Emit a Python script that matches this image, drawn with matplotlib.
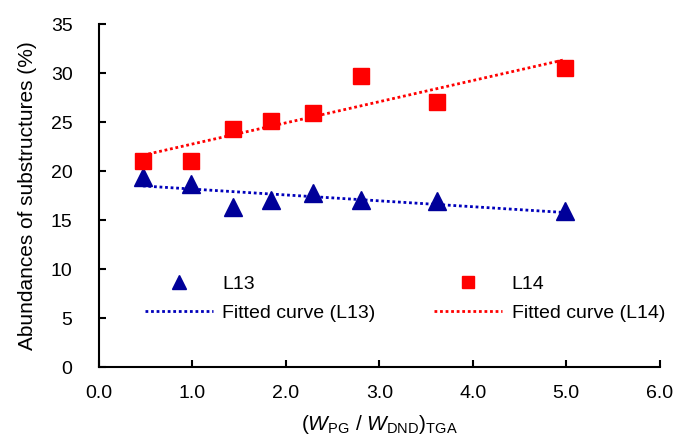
import numpy as np
import matplotlib
matplotlib.use('Agg')
import matplotlib.pyplot as plt

plt.rcParams['font.family'] = ['Liberation Sans', 'DejaVu Sans']
plt.rcParams['mathtext.fontset'] = 'custom'
plt.rcParams['mathtext.rm'] = 'Liberation Sans'
plt.rcParams['mathtext.it'] = 'Liberation Sans:italic'

# ratio (W_PG / W_DND)_TGA
ratio = [0.47, 0.98, 1.43, 1.84, 2.29, 2.80, 3.62, 4.99]
l13 = [19.4, 18.7, 16.35, 17.0, 17.8, 17.0, 16.9, 15.9]
l14 = [21.0, 21.0, 24.25, 25.15, 25.95, 29.7, 27.05, 30.5]

BLUE = '#000099'
BLUE_LINE = '#0000BB'
RED = '#FF0000'

fig = plt.figure(figsize=(6.78, 4.38), dpi=100)
ax = fig.add_axes([0.146, 0.162, 0.827, 0.783])

x = np.array(ratio)
ax.plot(x, l13, '^', color=BLUE, ms=13, mec=BLUE, label='L13', zorder=3)
ax.plot(x, l14, 's', color=RED, ms=11, mec=RED, label='L14', zorder=3)

# linear trend lines (as in the original spreadsheet)
xs = np.array([x.min(), x.max()])
p13 = np.polyfit(x, l13, 1)
p14 = np.polyfit(x, l14, 1)
ax.plot(xs, np.polyval(p13, xs), color=BLUE_LINE, lw=2, ls=(0, (1, 1)),
        label='Fitted curve (L13)', zorder=2)
ax.plot(xs, np.polyval(p14, xs), color=RED, lw=2, ls=(0, (1, 1)),
        label='Fitted curve (L14)', zorder=2)

ax.set_xlim(0, 6)
ax.set_ylim(0, 35)
ax.set_xticks(np.arange(0, 6.1, 1.0))
ax.set_xticklabels([f'{v:.1f}' for v in np.arange(0, 6.1, 1.0)])
ax.set_yticks(np.arange(0, 36, 5))

for s in ('top', 'right'):
    ax.spines[s].set_visible(False)
for s in ('left', 'bottom'):
    ax.spines[s].set_linewidth(1.5)
ax.tick_params(axis='both', direction='in', length=5, width=1.5, labelsize=14)
ax.tick_params(axis='x', pad=13)
ax.tick_params(axis='y', pad=19)

ax.set_ylabel('Abundances of substructures (%)', fontsize=15, labelpad=10)
ax.set_xlabel(r'$(\mathit{W}_{\mathrm{PG}}\ /\ \mathit{W}_{\mathrm{DND}})_{\mathrm{TGA}}$',
              fontsize=15, labelpad=8)

h, lab = ax.get_legend_handles_labels()
order = [0, 2, 1, 3]
ax.legend([h[i] for i in order], [lab[i] for i in order], ncol=2, frameon=False,
          fontsize=14, handlelength=3.5, markerscale=0.8, columnspacing=3.0,
          handletextpad=0.5, labelspacing=0.6,
          loc='center left', bbox_to_anchor=(0.05, 0.2))

fig.savefig('out.png', dpi=100)
